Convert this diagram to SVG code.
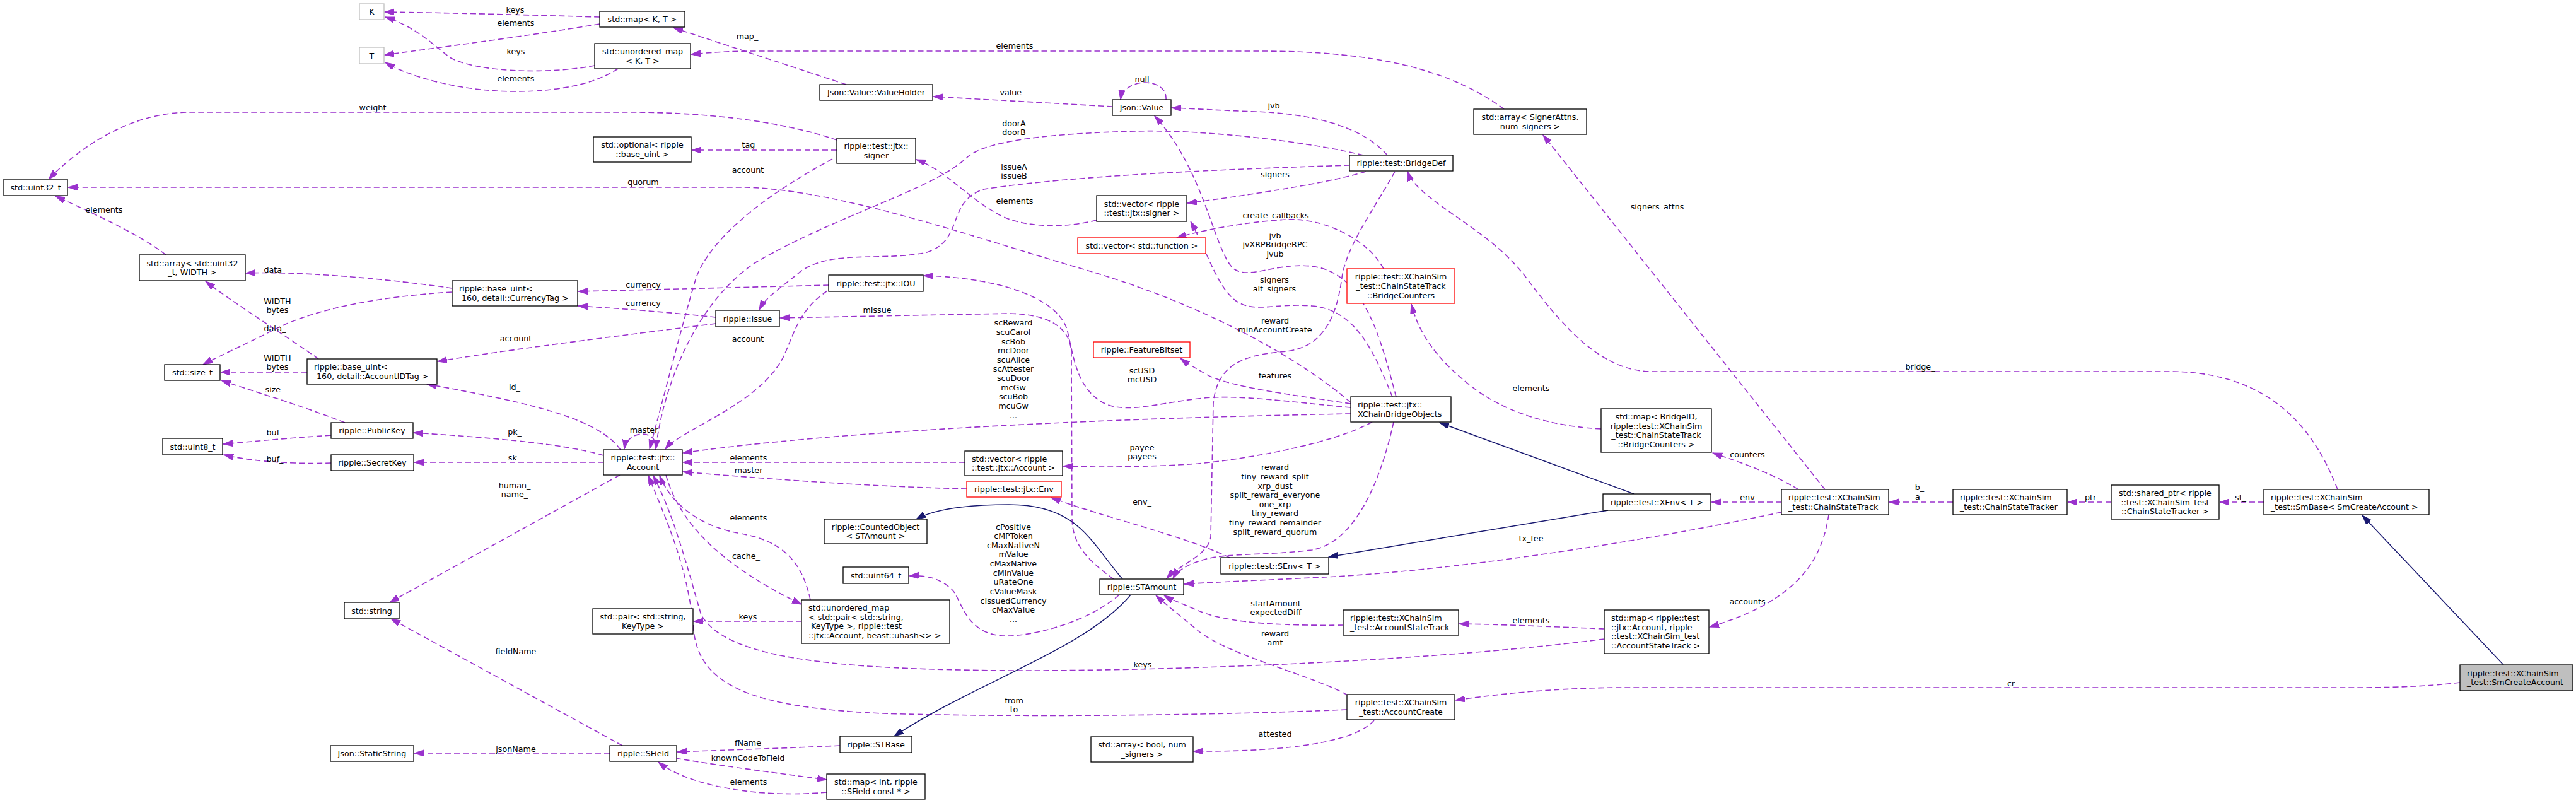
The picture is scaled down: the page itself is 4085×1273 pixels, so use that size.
<svg xmlns="http://www.w3.org/2000/svg" width="4085" height="1273" viewBox="0 0 4085 1273">
<style>
text{font-family:"DejaVu Sans","Liberation Sans",sans-serif;font-size:12.7px;fill:#000}
.n rect{fill:#fff;stroke:#000;stroke-width:1.3}
.g rect{stroke:#bfbfbf}
.r rect{stroke:#ff0000}
.m rect{fill:#bfbfbf}
.c{text-anchor:middle}
.e path{fill:none;stroke:#9a32cd;stroke-width:1.6;stroke-dasharray:9,5;marker-end:url(#ap)}
.i path{fill:none;stroke:#191970;stroke-width:1.5;marker-end:url(#an)}
.e text,.i text{text-anchor:middle}
</style>
<defs>
<marker id="ap" markerUnits="userSpaceOnUse" markerWidth="16" markerHeight="12" refX="15" refY="5" orient="auto"><path d="M0,0 L15,5 L0,10 z" fill="#9a32cd" stroke="#9a32cd" stroke-width="1"/></marker>
<marker id="an" markerUnits="userSpaceOnUse" markerWidth="16" markerHeight="12" refX="15" refY="5" orient="auto"><path d="M0,0 L15,5 L0,10 z" fill="#191970" stroke="#191970" stroke-width="1"/></marker>
</defs>
<rect width="4085" height="1273" fill="#fff"/>
<g id="edges">
<g class="e"><path d="M951,27 C850,24 700,20 610,19"/><text x="817" y="19.5">keys</text></g>
<g class="e"><path d="M951,38 C850,55 700,75 610,87"/><text x="818" y="41">elements</text></g>
<g class="e"><path d="M943,104 C870,118 760,115 715,92 C690,75 665,45 611,27"/><text x="818" y="86">keys</text></g>
<g class="e"><path d="M980,109 C940,135 880,145 818,145 C730,145 650,122 611,99"/><text x="818" y="129">elements</text></g>
<g class="e"><path d="M1342,134 L1068,44"/><text x="1185" y="62">map_</text></g>
<g class="e"><path d="M2385,173 C2300,110 2180,81 2000,81 L1200,81 C1150,81 1120,84 1096,86"/><text x="1609" y="77">elements</text></g>
<g class="e"><path d="M1764,169 L1480,153"/><text x="1606" y="151">value_</text></g>
<g class="e"><path d="M1849,158 C1852,122 1782,122 1777,158"/><text x="1811" y="130">null</text></g>
<g class="e"><path d="M1327,222 C1240,192 1120,178 1000,178 L300,178 C210,178 130,230 77,284"/><text x="591" y="175">weight</text></g>
<g class="e"><path d="M1327,238 L1097,238"/><text x="1187" y="234">tag</text></g>
<g class="e"><path d="M1320,252 C1230,300 1130,370 1104,440 C1080,520 1050,640 1030,712"/><text x="1186" y="274">account</text></g>
<g class="e"><path d="M2142,638 C2050,560 1900,480 1722,428 C1550,378 1330,300 1180,297 L108,297"/><text x="1020" y="293">quorum</text></g>
<g class="e"><path d="M2200,246 C2160,200 2080,180 1990,177 C1930,175 1890,172 1858,171"/><text x="2020" y="172">jvb</text></g>
<g class="e"><path d="M2162,246 C2060,222 1900,205 1800,208 C1650,212 1560,225 1533,250 C1480,300 1330,340 1200,415 C1100,480 1050,620 1040,712"/><text x="1608" y="199.5">doorA<tspan x="1608" dy="14.6">doorB</tspan></text></g>
<g class="e"><path d="M2140,262 C1950,268 1700,278 1560,300 C1500,320 1530,380 1470,400 C1400,415 1320,395 1270,430 C1240,455 1215,470 1204,491"/><text x="1608" y="268.5">issueA<tspan x="1608" dy="14.6">issueB</tspan></text></g>
<g class="e"><path d="M2166,272 C2100,292 1960,312 1883,322"/><text x="2022" y="281">signers</text></g>
<g class="e"><path d="M2212,272 C2180,330 2135,390 2128,440 C2120,500 2100,550 2040,557 C1985,562 1930,570 1924,640 L1920,850 C1918,880 1870,895 1850,917"/><text x="2022" y="512.5">reward<tspan x="2022" dy="14.6">minAccountCreate</tspan></text></g>
<g class="e"><path d="M1739,349 C1690,362 1620,362 1580,338 C1530,310 1500,270 1453,253"/><text x="1609" y="323">elements</text></g>
<g class="e"><path d="M2194,426 C2170,380 2100,345 2040,348 C1980,351 1905,365 1866,377"/><text x="2023" y="346">create_callbacks</text></g>
<g class="e"><path d="M2214,629 C2190,540 2165,432 2080,422 C2020,416 1980,445 1955,425 C1925,395 1910,270 1831,184"/><text x="2022" y="377.5">jvb<tspan x="2022" dy="14.6">jvXRPBridgeRPC</tspan><tspan x="2022" dy="14.6">jvub</tspan></text></g>
<g class="e"><path d="M2208,629 C2180,560 2150,490 2080,485 C2020,480 1990,497 1960,477 C1930,455 1915,400 1888,351"/><text x="2021" y="447.5">signers<tspan x="2021" dy="14.6">alt_signers</tspan></text></g>
<g class="e"><path d="M1766,918 C1720,885 1700,860 1700,820 L1699,560 C1698,520 1665,498 1600,497 L1237,504"/><text x="1391" y="496">mIssue</text></g>
<g class="e"><path d="M2142,656 C1800,662 1350,680 1083,718"/><text x="1607" y="516.2">scReward<tspan x="1607" dy="14.65">scuCarol</tspan><tspan x="1607" dy="14.65">scBob</tspan><tspan x="1607" dy="14.65">mcDoor</tspan><tspan x="1607" dy="14.65">scuAlice</tspan><tspan x="1607" dy="14.65">scAttester</tspan><tspan x="1607" dy="14.65">scuDoor</tspan><tspan x="1607" dy="14.65">mcGw</tspan><tspan x="1607" dy="14.65">scuBob</tspan><tspan x="1607" dy="14.65">mcuGw</tspan><tspan x="1607" dy="14.65">...</tspan></text></g>
<g class="e"><path d="M2142,646 C2050,638 1960,624 1900,632 C1830,640 1780,658 1745,636 C1705,610 1702,560 1692,522 C1675,470 1580,440 1465,437"/><text x="1811" y="591.5">scUSD<tspan x="1811" dy="14.6">mcUSD</tspan></text></g>
<g class="e"><path d="M2142,640 C2050,626 1950,614 1912,593 C1895,583 1882,576 1872,568"/><text x="2022" y="599.5">features</text></g>
<g class="e"><path d="M2176,669 C2120,700 2000,725 1900,735 C1800,742 1720,740 1686,739"/><text x="1811" y="713.5">payee<tspan x="1811" dy="14.6">payees</tspan></text></g>
<g class="e"><path d="M2210,669 C2190,760 2150,860 2080,872 C2000,882 1940,875 1900,890 C1880,897 1866,906 1860,917"/><text x="2022" y="745.2">reward<tspan x="2022" dy="14.65">tiny_reward_split</tspan><tspan x="2022" dy="14.65">xrp_dust</tspan><tspan x="2022" dy="14.65">split_reward_everyone</tspan><tspan x="2022" dy="14.65">one_xrp</tspan><tspan x="2022" dy="14.65">tiny_reward</tspan><tspan x="2022" dy="14.65">tiny_reward_remainder</tspan><tspan x="2022" dy="14.65">split_reward_quorum</tspan></text></g>
<g class="e"><path d="M263,404 C220,370 130,330 88,311"/><text x="165" y="337">elements</text></g>
<g class="e"><path d="M717,457 C600,440 470,430 390,433"/><text x="436" y="431.5">data_</text></g>
<g class="e"><path d="M717,463 C600,470 500,490 440,520 C385,548 340,568 322,578"/><text x="440" y="481.5">WIDTH<tspan x="440" dy="14.6">bytes</tspan></text></g>
<g class="e"><path d="M505,569 C450,530 370,480 326,446"/><text x="436" y="524.5">data_</text></g>
<g class="e"><path d="M487,590 L350,590"/><text x="440" y="571.5">WIDTH<tspan x="440" dy="14.6">bytes</tspan></text></g>
<g class="e"><path d="M547,670 C470,640 400,620 351,603"/><text x="436" y="621.5">size_</text></g>
<g class="e"><path d="M525,690 C450,695 400,700 354,704"/><text x="436" y="689.5">buf_</text></g>
<g class="e"><path d="M525,734 C470,736 400,732 355,721"/><text x="436" y="731.5">buf_</text></g>
<g class="e"><path d="M1314,452 C1200,455 1000,460 917,462"/><text x="1020" y="455.5">currency</text></g>
<g class="e"><path d="M1135,503 C1080,497 1000,490 917,485"/><text x="1020" y="484.5">currency</text></g>
<g class="e"><path d="M1135,513 C1000,530 800,555 694,573"/><text x="818" y="540.5">account</text></g>
<g class="e"><path d="M1312,461 C1270,490 1262,520 1245,560 C1210,640 1080,680 1055,712"/><text x="1186" y="541.5">account</text></g>
<g class="e"><path d="M984,713 C950,665 850,640 677,609"/><text x="816" y="617.5">id_</text></g>
<g class="e"><path d="M957,722 C900,705 800,695 656,686"/><text x="816" y="688.5">pk_</text></g>
<g class="e"><path d="M957,733 L657,733"/><text x="816" y="729.5">sk_</text></g>
<g class="e"><path d="M1040,713 C1045,680 995,680 990,712"/><text x="1021" y="685.5">master</text></g>
<g class="e"><path d="M983,753 L618,955"/><text x="816" y="773.5">human_<tspan x="816" dy="14.6">name_</tspan></text></g>
<g class="e"><path d="M1530,733 L1083,733"/><text x="1187" y="729.5">elements</text></g>
<g class="e"><path d="M1533,775 C1400,772 1250,762 1083,748"/><text x="1187" y="749.5">master</text></g>
<g class="e"><path d="M1285,951 C1270,880 1230,855 1170,845 C1100,832 1060,790 1046,754"/><text x="1187" y="824.5">elements</text></g>
<g class="e"><path d="M1056,753 C1075,820 1130,890 1271,958"/><text x="1183" y="885.5">cache_</text></g>
<g class="e"><path d="M1271,985 L1100,985"/><text x="1186" y="981.5">keys</text></g>
<g class="e"><path d="M2544,1013 C2300,1045 1900,1063 1630,1063 C1300,1063 1150,1040 1112,975 C1090,900 1070,820 1036,754"/><text x="1812" y="1057.5">keys</text></g>
<g class="e"><path d="M2136,1125 C1900,1135 1600,1137 1400,1131 C1200,1122 1110,1090 1100,1000 C1092,900 1055,820 1028,754"/><text x="1608" y="1114.5">from<tspan x="1608" dy="14.6">to</tspan></text></g>
<g class="e"><path d="M987,1182 L620,981"/><text x="818" y="1036.5">fieldName</text></g>
<g class="e"><path d="M967,1194 L657,1194"/><text x="818" y="1191.5">jsonName</text></g>
<g class="e"><path d="M1332,1182 C1250,1186 1150,1189 1074,1192"/><text x="1186" y="1181.5">fName</text></g>
<g class="e"><path d="M1071,1202 C1150,1215 1250,1228 1311,1236"/><text x="1186" y="1205.5">knownCodeToField</text></g>
<g class="e"><path d="M1311,1256 C1200,1266 1090,1245 1044,1208"/><text x="1187" y="1243.5">elements</text></g>
<g class="i"><path d="M1793,943 C1720,1030 1550,1080 1418,1167"/></g>
<g class="i"><path d="M1780,918 C1730,860 1710,800 1600,800 C1530,800 1480,808 1453,823"/></g>
<g class="e"><path d="M1775,943 C1720,990 1630,1010 1590,1008 C1530,1004 1525,950 1510,935 C1490,916 1470,912 1442,913"/><text x="1607" y="839.5">cPositive<tspan x="1607" dy="14.65">cMPToken</tspan><tspan x="1607" dy="14.65">cMaxNativeN</tspan><tspan x="1607" dy="14.65">mValue</tspan><tspan x="1607" dy="14.65">cMaxNative</tspan><tspan x="1607" dy="14.65">cMinValue</tspan><tspan x="1607" dy="14.65">uRateOne</tspan><tspan x="1607" dy="14.65">cValueMask</tspan><tspan x="1607" dy="14.65">cIssuedCurrency</tspan><tspan x="1607" dy="14.65">cMaxValue</tspan><tspan x="1607" dy="14.65">...</tspan></text></g>
<g class="e"><path d="M2130,991 C2050,992 1950,990 1900,968 C1870,955 1856,950 1846,944"/><text x="2023" y="960.5">startAmount<tspan x="2023" dy="14.6">expectedDiff</tspan></text></g>
<g class="e"><path d="M2137,1102 C2080,1070 1950,1040 1900,1000 C1870,975 1845,955 1833,944"/><text x="2022" y="1008.5">reward<tspan x="2022" dy="14.6">amt</tspan></text></g>
<g class="e"><path d="M2179,1142 C2150,1175 2050,1192 1893,1191"/><text x="2022" y="1167.5">attested</text></g>
<g class="e"><path d="M1950,884 C1880,850 1750,820 1667,789"/><text x="1811" y="799.5">env_</text></g>
<g class="i"><path d="M2550,809 L2107,883"/></g>
<g class="i"><path d="M2591,783 L2283,670"/></g>
<g class="e"><path d="M2825,796 L2714,796"/><text x="2771" y="792.5">env</text></g>
<g class="e"><path d="M2825,812 C2600,860 2300,905 2100,915 C2000,920 1920,923 1878,926"/><text x="2428" y="857.5">tx_fee</text></g>
<g class="e"><path d="M2852,776 C2800,745 2750,730 2716,718"/><text x="2771" y="724.5">counters</text></g>
<g class="e"><path d="M2900,816 C2890,880 2860,950 2711,994"/><text x="2771" y="957.5">accounts</text></g>
<g class="e"><path d="M2894,776 L2447,214"/><text x="2628" y="331.5">signers_attns</text></g>
<g class="e"><path d="M2539,680 C2450,675 2380,650 2330,610 C2280,570 2250,530 2238,482"/><text x="2428" y="619.5">elements</text></g>
<g class="e"><path d="M2544,997 C2450,993 2380,990 2314,989"/><text x="2428" y="987.5">elements</text></g>
<g class="e"><path d="M3097,796 L2996,796"/><text x="3044" y="776.5">b_<tspan x="3044" dy="15.5">a_</tspan></text></g>
<g class="e"><path d="M3348,796 L3279,796"/><text x="3315" y="792.5">ptr</text></g>
<g class="e"><path d="M3590,796 L3520,796"/><text x="3553" y="792.5">st_</text></g>
<g class="e"><path d="M3707,776 C3670,680 3600,589 3440,589 L2620,589 C2540,589 2480,520 2420,440 C2360,360 2250,320 2232,272"/><text x="3045" y="585.5">bridge_</text></g>
<g class="i"><path d="M3970,1054 L3746,817"/></g>
<g class="e"><path d="M3901,1082 C3850,1088 3800,1090 3740,1090 L2560,1090 C2450,1092 2380,1100 2308,1110"/><text x="3189" y="1087.5">cr</text></g>
</g>
<g id="n_K" class="n g"><rect x="570" y="6" width="39" height="25"/><text class="c" x="589.5" y="23">K</text></g>
<g id="n_T" class="n g"><rect x="570" y="75" width="39" height="26"/><text class="c" x="589.5" y="92.5">T</text></g>
<g id="n_mapKT" class="n"><rect x="951" y="18" width="135" height="25"/><text class="c" x="1018.5" y="35">std::map&lt; K, T &gt;</text></g>
<g id="n_umapKT" class="n"><rect x="943" y="69" width="152" height="40"/><text class="c" x="1019" y="86.2">std::unordered_map<tspan x="1019" dy="14.6">&lt; K, T &gt;</tspan></text></g>
<g id="n_valueholder" class="n"><rect x="1300" y="134" width="179" height="25"/><text class="c" x="1389.5" y="151">Json::Value::ValueHolder</text></g>
<g id="n_jsonvalue" class="n"><rect x="1764" y="158" width="93" height="25"/><text class="c" x="1810.5" y="175">Json::Value</text></g>
<g id="n_arraySA" class="n"><rect x="2337" y="173" width="179" height="40"/><text class="c" x="2426.5" y="190.2">std::array&lt; SignerAttns,<tspan x="2426.5" dy="14.6">num_signers &gt;</tspan></text></g>
<g id="n_optional" class="n"><rect x="941" y="217" width="155" height="40"/><text class="c" x="1018.5" y="234.2">std::optional&lt; ripple<tspan x="1018.5" dy="14.6">::base_uint &gt;</tspan></text></g>
<g id="n_signer" class="n"><rect x="1327" y="219" width="125" height="40"/><text class="c" x="1389.5" y="236.2">ripple::test::jtx::<tspan x="1389.5" dy="14.6">signer</tspan></text></g>
<g id="n_bridgedef" class="n"><rect x="2140" y="246" width="164" height="25"/><text class="c" x="2222" y="263">ripple::test::BridgeDef</text></g>
<g id="n_uint32" class="n"><rect x="6" y="284" width="101" height="26"/><text class="c" x="56.5" y="301.5">std::uint32_t</text></g>
<g id="n_vecsigner" class="n"><rect x="1739" y="310" width="143" height="41"/><text class="c" x="1810.5" y="327.7">std::vector&lt; ripple<tspan x="1810.5" dy="14.6">::test::jtx::signer &gt;</tspan></text></g>
<g id="n_vecfunc" class="n r"><rect x="1709" y="377" width="203" height="25"/><text class="c" x="1810.5" y="394">std::vector&lt; std::function &gt;</text></g>
<g id="n_arrayu32" class="n"><rect x="221" y="404" width="168" height="41"/><text class="c" x="305" y="421.7">std::array&lt; std::uint32<tspan x="305" dy="14.6">_t, WIDTH &gt;</tspan></text></g>
<g id="n_bridgecounters" class="n r"><rect x="2136" y="426" width="171" height="55"/><text class="c" x="2221.5" y="443.4">ripple::test::XChainSim<tspan x="2221.5" dy="14.6">_test::ChainStateTrack</tspan><tspan x="2221.5" dy="14.6">::BridgeCounters</tspan></text></g>
<g id="n_iou" class="n"><rect x="1314" y="436" width="150" height="26"/><text class="c" x="1389" y="453.5">ripple::test::jtx::IOU</text></g>
<g id="n_currencytag" class="n"><rect x="717" y="445" width="199" height="40"/><text x="728" y="462.2">ripple::base_uint&lt;<tspan x="732" dy="14.6">160, detail::CurrencyTag &gt;</tspan></text></g>
<g id="n_issue" class="n"><rect x="1135" y="492" width="101" height="26"/><text class="c" x="1185.5" y="509.5">ripple::Issue</text></g>
<g id="n_featurebitset" class="n r"><rect x="1734" y="542" width="153" height="25"/><text class="c" x="1810.5" y="559">ripple::FeatureBitset</text></g>
<g id="n_accountidtag" class="n"><rect x="487" y="569" width="206" height="40"/><text x="498" y="586.2">ripple::base_uint&lt;<tspan x="502" dy="14.6">160, detail::AccountIDTag &gt;</tspan></text></g>
<g id="n_sizet" class="n"><rect x="261" y="578" width="88" height="25"/><text class="c" x="305" y="595">std::size_t</text></g>
<g id="n_xcbo" class="n"><rect x="2142" y="629" width="159" height="40"/><text x="2153" y="646.2">ripple::test::jtx::<tspan x="2153" dy="14.6">XChainBridgeObjects</tspan></text></g>
<g id="n_mapbridge" class="n"><rect x="2539" y="648" width="175" height="69"/><text class="c" x="2626.5" y="665.1">std::map&lt; BridgeID,<tspan x="2626.5" dy="14.6">ripple::test::XChainSim</tspan><tspan x="2626.5" dy="14.6">_test::ChainStateTrack</tspan><tspan x="2626.5" dy="14.6">::BridgeCounters &gt;</tspan></text></g>
<g id="n_pubkey" class="n"><rect x="525" y="670" width="130" height="25"/><text class="c" x="590" y="687">ripple::PublicKey</text></g>
<g id="n_uint8" class="n"><rect x="258" y="695" width="95" height="26"/><text class="c" x="305.5" y="712.5">std::uint8_t</text></g>
<g id="n_account" class="n"><rect x="957" y="713" width="125" height="40"/><text class="c" x="1019.5" y="730.2">ripple::test::jtx::<tspan x="1019.5" dy="14.6">Account</tspan></text></g>
<g id="n_vecaccount" class="n"><rect x="1530" y="715" width="155" height="39"/><text x="1541" y="731.7">std::vector&lt; ripple<tspan x="1541" dy="14.6">::test::jtx::Account &gt;</tspan></text></g>
<g id="n_secretkey" class="n"><rect x="525" y="721" width="131" height="25"/><text class="c" x="590.5" y="738">ripple::SecretKey</text></g>
<g id="n_env" class="n r"><rect x="1533" y="763" width="150" height="25"/><text class="c" x="1608" y="780">ripple::test::jtx::Env</text></g>
<g id="n_xenv" class="n"><rect x="2542" y="783" width="171" height="26"/><text class="c" x="2627.5" y="800.5">ripple::test::XEnv&lt; T &gt;</text></g>
<g id="n_cstrack" class="n"><rect x="2825" y="776" width="170" height="40"/><text x="2836" y="793.2">ripple::test::XChainSim<tspan x="2836" dy="14.6">_test::ChainStateTrack</tspan></text></g>
<g id="n_cstracker" class="n"><rect x="3097" y="776" width="181" height="40"/><text x="3108" y="793.2">ripple::test::XChainSim<tspan x="3108" dy="14.6">_test::ChainStateTracker</tspan></text></g>
<g id="n_sharedptr" class="n"><rect x="3348" y="769" width="171" height="54"/><text class="c" x="3433.5" y="785.9">std::shared_ptr&lt; ripple<tspan x="3433.5" dy="14.6">::test::XChainSim_test</tspan><tspan x="3433.5" dy="14.6">::ChainStateTracker &gt;</tspan></text></g>
<g id="n_smbase" class="n"><rect x="3590" y="776" width="262" height="40"/><text x="3601" y="793.2">ripple::test::XChainSim<tspan x="3601" dy="14.6">_test::SmBase&lt; SmCreateAccount &gt;</tspan></text></g>
<g id="n_counted" class="n"><rect x="1307" y="823" width="163" height="39"/><text class="c" x="1388.5" y="839.7">ripple::CountedObject<tspan x="1388.5" dy="14.6">&lt; STAmount &gt;</tspan></text></g>
<g id="n_senv" class="n"><rect x="1936" y="884" width="171" height="26"/><text class="c" x="2021.5" y="901.5">ripple::test::SEnv&lt; T &gt;</text></g>
<g id="n_uint64" class="n"><rect x="1337" y="899" width="104" height="26"/><text class="c" x="1389" y="916.5">std::uint64_t</text></g>
<g id="n_stamount" class="n"><rect x="1744" y="918" width="133" height="25"/><text class="c" x="1810.5" y="935">ripple::STAmount</text></g>
<g id="n_string" class="n"><rect x="546" y="955" width="87" height="26"/><text class="c" x="589.5" y="972.5">std::string</text></g>
<g id="n_pair" class="n"><rect x="940" y="965" width="159" height="40"/><text class="c" x="1019.5" y="982.2">std::pair&lt; std::string,<tspan x="1019.5" dy="14.6">KeyType &gt;</tspan></text></g>
<g id="n_umappair" class="n"><rect x="1271" y="951" width="235" height="69"/><text x="1282" y="968.1">std::unordered_map<tspan x="1282" dy="14.6">&lt; std::pair&lt; std::string,</tspan><tspan x="1286" dy="14.6">KeyType &gt;, ripple::test</tspan><tspan x="1282" dy="14.6">::jtx::Account, beast::uhash&lt;&gt; &gt;</tspan></text></g>
<g id="n_ast" class="n"><rect x="2130" y="967" width="183" height="40"/><text x="2141" y="984.2">ripple::test::XChainSim<tspan x="2141" dy="14.6">_test::AccountStateTrack</tspan></text></g>
<g id="n_mapaccount" class="n"><rect x="2544" y="967" width="166" height="69"/><text x="2555" y="984.1">std::map&lt; ripple::test<tspan x="2555" dy="14.6">::jtx::Account, ripple</tspan><tspan x="2555" dy="14.6">::test::XChainSim_test</tspan><tspan x="2555" dy="14.6">::AccountStateTrack &gt;</tspan></text></g>
<g id="n_smcreate" class="n m"><rect x="3901" y="1054" width="179" height="41"/><text x="3912" y="1071.7">ripple::test::XChainSim<tspan x="3912" dy="14.6">_test::SmCreateAccount</tspan></text></g>
<g id="n_accountcreate" class="n"><rect x="2136" y="1101" width="171" height="40"/><text class="c" x="2221.5" y="1118.2">ripple::test::XChainSim<tspan x="2221.5" dy="14.6">_test::AccountCreate</tspan></text></g>
<g id="n_stbase" class="n"><rect x="1332" y="1167" width="114" height="26"/><text class="c" x="1389" y="1184.5">ripple::STBase</text></g>
<g id="n_arraybool" class="n"><rect x="1730" y="1168" width="162" height="40"/><text class="c" x="1811" y="1185.2">std::array&lt; bool, num<tspan x="1811" dy="14.6">_signers &gt;</tspan></text></g>
<g id="n_staticstring" class="n"><rect x="524" y="1182" width="132" height="25"/><text class="c" x="590" y="1199">Json::StaticString</text></g>
<g id="n_sfield" class="n"><rect x="967" y="1182" width="106" height="25"/><text class="c" x="1020" y="1199">ripple::SField</text></g>
<g id="n_mapint" class="n"><rect x="1311" y="1227" width="156" height="40"/><text class="c" x="1389" y="1244.2">std::map&lt; int, ripple<tspan x="1389" dy="14.6">::SField const * &gt;</tspan></text></g>
</svg>
